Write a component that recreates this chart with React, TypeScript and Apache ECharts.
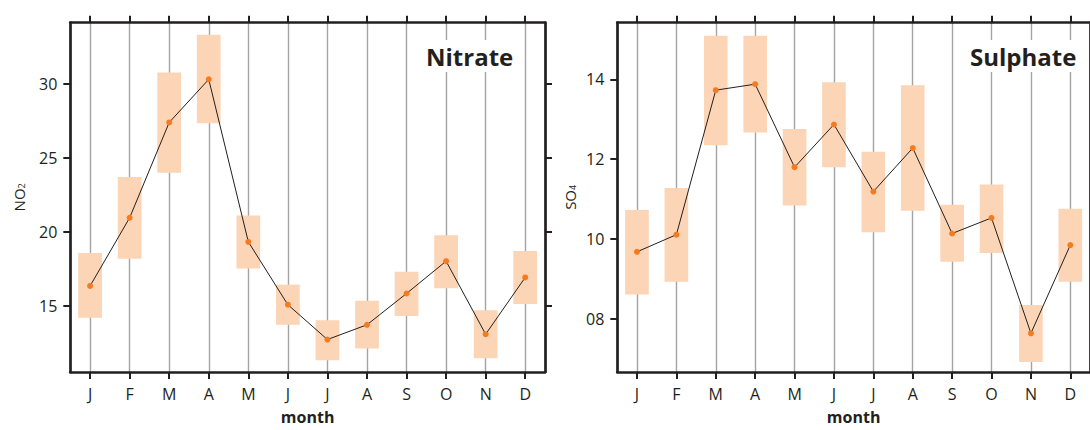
import React, { useEffect, useRef } from "react";
import * as echarts from "echarts";

const months = ["J", "F", "M", "A", "M", "J", "J", "A", "S", "O", "N", "D"];
const monthIdx = [0, 1, 2, 3, 4, 5, 6, 7, 8, 9, 10, 11];

const nitrateMean = [16.33, 20.95, 27.41, 30.33, 19.32, 15.06, 12.7, 13.7, 15.82, 18.01, 13.06, 16.91];
const nitrateLow = [14.17, 18.18, 24.0, 27.35, 17.51, 13.7, 11.29, 12.09, 14.3, 16.17, 11.43, 15.1];
const nitrateHigh = [18.56, 23.71, 30.8, 33.36, 21.1, 16.42, 14.01, 15.33, 17.29, 19.77, 14.68, 18.7];

const sulphateMean = [9.68, 10.11, 13.73, 13.88, 11.8, 12.87, 11.19, 12.28, 10.14, 10.53, 7.64, 9.85];
const sulphateLow = [8.61, 8.93, 12.35, 12.67, 10.84, 11.8, 10.17, 10.71, 9.43, 9.65, 6.92, 8.93];
const sulphateHigh = [10.73, 11.28, 15.09, 15.09, 12.76, 13.93, 12.19, 13.85, 10.86, 11.37, 8.35, 10.76];

const nitrateTicks = [15, 20, 25, 30];
const sulphateTicks = [8, 10, 12, 14];

const FONT = "'Open Sans', 'Noto Sans', sans-serif";
const INK = "#231f20";
const BOX = "#fbd5b6";
const DOT = "#f47b20";
const GRIDLINE = "#a4a4a4";

const HALF = 0.3;

function boxSeries(low: number[], high: number[], xi: number, yi: number) {
  return {
    type: "custom",
    xAxisIndex: xi,
    yAxisIndex: yi,
    z: 2,
    data: monthIdx.map((m, i) => [m, low[i], high[i]]),
    encode: { x: 0, y: [1, 2] },
    renderItem: (params: any, api: any) => {
      const x = api.value(0);
      const p1 = api.coord([x - HALF, api.value(2)]);
      const p2 = api.coord([x + HALF, api.value(1)]);
      return {
        type: "rect",
        shape: { x: p1[0], y: p1[1], width: p2[0] - p1[0], height: p2[1] - p1[1] },
        style: { fill: BOX },
      };
    },
  };
}

function lineSeries(mean: number[], xi: number, yi: number) {
  return {
    type: "line",
    xAxisIndex: xi,
    yAxisIndex: yi,
    z: 3,
    data: monthIdx.map((m, i) => [m, mean[i]]),
    symbol: "circle",
    symbolSize: 6,
    lineStyle: { color: INK, width: 1 },
    itemStyle: { color: DOT },
  };
}

function xAxes(gridIndex: number) {
  const common = {
    type: "value",
    gridIndex,
    min: -0.5,
    max: 11.5,
    axisLine: { show: true, onZero: false, lineStyle: { color: INK, width: 2.7 } },
    axisTick: {
      show: true,
      inside: false,
      length: 7,
      customValues: monthIdx,
      lineStyle: { color: INK, width: 2 },
    },
  };
  return [
    {
      ...common,
      position: "bottom",
      name: "month",
      nameLocation: "middle",
      nameGap: 37,
      nameTextStyle: { fontFamily: FONT, fontSize: 16, fontWeight: "bold", color: INK },
      axisLabel: {
        show: true,
        customValues: monthIdx,
        formatter: (v: number) => months[Math.round(v)],
        margin: 14,
        fontFamily: FONT,
        fontSize: 16,
        color: INK,
      },
      splitLine: { show: true, lineStyle: { color: GRIDLINE, width: 1.4 } },
    },
    {
      ...common,
      position: "top",
      axisLabel: { show: false },
      splitLine: { show: false },
    },
  ];
}

function yAxes(gridIndex: number, min: number, max: number, ticks: number[], pad: boolean, nameKey: string, sub: string, nameGap: number) {
  const common = {
    type: "value",
    gridIndex,
    min,
    max,
    axisLine: { show: true, onZero: false, lineStyle: { color: INK, width: 2.7 } },
    axisTick: {
      show: true,
      inside: false,
      length: 7,
      customValues: ticks,
      lineStyle: { color: INK, width: 2 },
    },
    splitLine: { show: false },
  };
  return [
    {
      ...common,
      position: "left",
      name: "{m|" + nameKey + "}{s|" + sub + "}",
      nameLocation: "middle",
      nameGap,
      nameRotate: 90,
      nameTextStyle: {
        fontFamily: FONT,
        fontSize: 15,
        color: INK,
        rich: {
          m: { fontFamily: FONT, fontSize: 15, color: INK },
          s: { fontFamily: FONT, fontSize: 9, color: INK, verticalAlign: "bottom" },
        },
      },
      axisLabel: {
        show: true,
        customValues: ticks,
        margin: 13,
        fontFamily: FONT,
        fontSize: 16,
        color: INK,
        formatter: (v: number) => (pad ? String(Math.round(v)).padStart(2, "0") : String(Math.round(v))),
      },
    },
    {
      ...common,
      position: "right",
      axisLabel: { show: false },
    },
  ];
}

export default function App() {
  const ref = useRef<HTMLDivElement>(null);
  useEffect(() => {
    document.body.style.margin = "0";
    if (!ref.current) return;
    const chart = echarts.init(ref.current, undefined, { renderer: "svg" });
    const option: any = {
      animation: false,
      backgroundColor: "#ffffff",
      grid: [
        { left: 70.3, top: 22.7, width: 474.7, height: 354 },
        { left: 617.3, top: 22.7, width: 474.7, height: 354 },
      ],
      title: [
        {
          text: "Nitrate",
          left: 420,
          top: 40,
          padding: [4, 6],
          backgroundColor: "#ffffff",
          textStyle: { fontFamily: FONT, fontSize: 24, fontWeight: "bold", color: INK },
        },
        {
          text: "Sulphate",
          left: 964,
          top: 40,
          padding: [4, 6],
          backgroundColor: "#ffffff",
          textStyle: { fontFamily: FONT, fontSize: 24, fontWeight: "bold", color: INK },
        },
      ],
      xAxis: [...xAxes(0), ...xAxes(1)],
      yAxis: [
        ...yAxes(0, 10.5, 34.17, nitrateTicks, false, "NO", "2", 44),
        ...yAxes(1, 6.67, 15.42, sulphateTicks, true, "SO", "4", 40),
      ],
      series: [
        boxSeries(nitrateLow, nitrateHigh, 0, 0),
        lineSeries(nitrateMean, 0, 0),
        boxSeries(sulphateLow, sulphateHigh, 2, 2),
        lineSeries(sulphateMean, 2, 2),
      ],
    };
    chart.setOption(option);
    return () => chart.dispose();
  }, []);
  return <div ref={ref} style={{ width: 1090, height: 430 }} />;
}
